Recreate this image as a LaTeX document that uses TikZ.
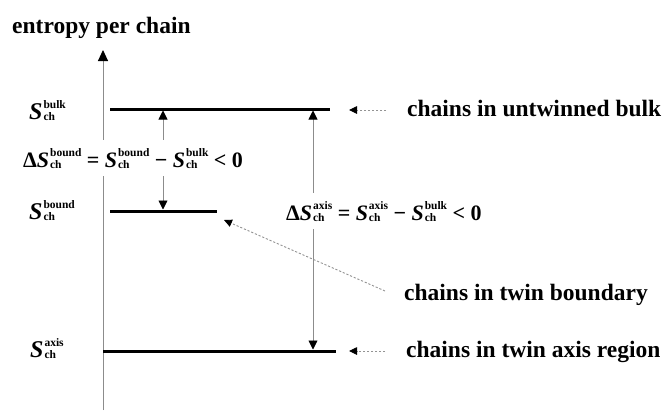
\documentclass[tikz,border=0pt]{standalone}
\usepackage{fontspec}
\setmainfont{Liberation Serif}
\usetikzlibrary{arrows.meta}
\newcommand\scr{\fontsize{11.5}{12}\selectfont\bfseries\upshape}
\newcommand\Sch[1]{{\itshape S}\kern0.04em{\scr\setbox0=\hbox{#1}\setbox2=\hbox{ch}\dimen0=\ifdim\wd0>\wd2 \wd0\else\wd2\fi\rlap{\raise 0.95em\box0}\rlap{\lower0.12em\box2}\kern\dimen0}}
\tikzset{
  big/.style={font=\fontsize{23.5}{26}\selectfont\bfseries, inner sep=0pt, anchor=base west},
  lev/.style={font=\fontsize{24}{26}\selectfont\bfseries, inner sep=0pt, anchor=base west},
  eqn/.style={font=\fontsize{22}{24}\selectfont\bfseries, inner xsep=0pt, inner ysep=8pt, anchor=base west, fill=white},
  level/.style={line width=3pt, black},
  vline/.style={draw=gray!90, line width=0.9pt},
  myTip/.tip={Triangle[length=9pt,width=9pt,color=black]},
  dTip/.tip={Triangle[length=8pt,width=7.5pt,color=black]},
  axTip/.tip={Triangle[length=11pt,width=10pt,color=black]},
  pointer/.style={draw=gray!85, line width=0.9pt, dash pattern=on 2.2pt off 1.8pt},
}
\begin{document}
\begin{tikzpicture}[x=1pt,y=-1pt]
\useasboundingbox (0,0) rectangle (667,410);
% coordinates
\coordinate (axbot) at (103,410);
\coordinate (axtop) at (103,50);
\coordinate (bulkL) at (110,109);
\coordinate (bulkR) at (330,109);
\coordinate (boundL) at (110,211);
\coordinate (boundR) at (217,211);
\coordinate (axisL) at (103,351);
\coordinate (axisR) at (336,351);
\coordinate (d1top) at (163,110.5);
\coordinate (d1bot) at (163,209.5);
\coordinate (d2top) at (313,110.5);
\coordinate (d2bot) at (313,349.5);
\coordinate (pb1) at (386,110);
\coordinate (pb2) at (349,110);
\coordinate (pt1) at (385,291);
\coordinate (pt2) at (224,220);
\coordinate (pa1) at (385,351);
\coordinate (pa2) at (349,351);
% axis
\draw[vline, -axTip] (axbot) -- (axtop);
% levels
\draw[level] (bulkL) -- (bulkR);
\draw[level] (boundL) -- (boundR);
\draw[level] (axisL) -- (axisR);
% difference arrows
\draw[vline, myTip-myTip] (d1bot) -- (d1top);
\draw[vline, myTip-myTip] (d2bot) -- (d2top);
% pointers
\draw[pointer, -dTip] (pb1) -- (pb2);
\draw[pointer, -dTip] (pt1) -- (pt2);
\draw[pointer, -dTip] (pa1) -- (pa2);
% texts
\node[big] (title) at (12,33) {entropy per chain};
\node[lev] (sbulk) at (29,119) {\Sch{bulk}};
\node[lev] (sbound) at (29,219) {\Sch{bound}};
\node[lev] (saxis) at (30,357) {\Sch{axis}};
\node[eqn] (eqbound) at (23,167) {Δ\Sch{bound} = \Sch{bound} − \Sch{bulk} < 0};
\node[eqn] (eqaxis) at (286,220) {Δ\Sch{axis} = \Sch{axis} − \Sch{bulk} < 0};
\node[big] (tbulk) at (407,116) {chains in untwinned bulk};
\node[big] (tbound) at (404,300) {chains in twin boundary};
\node[big] (taxis) at (406,357) {chains in twin axis region};
\end{tikzpicture}
\end{document}
